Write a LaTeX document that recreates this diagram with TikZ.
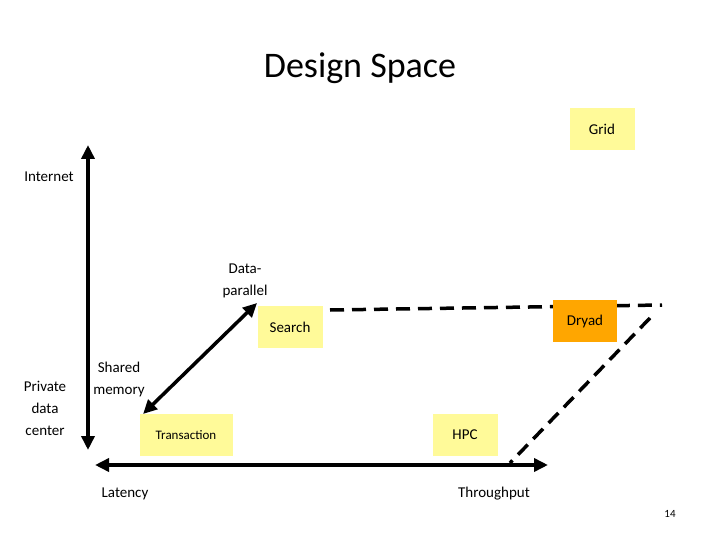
\documentclass[tikz,border=0pt]{standalone}
\usepackage{fontspec}
\setmainfont{Carlito}
\usetikzlibrary{arrows.meta}
\begin{document}
\begin{tikzpicture}[x=1pt,y=-1pt,
  lbl/.style={font=\fontsize{15}{22}\selectfont,align=center,inner sep=0},
  ybox/.style={fill=yellow!40,minimum width=65pt,minimum height=42pt,inner sep=0,font=\fontsize{15}{18}\selectfont},
  dashline/.style={line width=3.5pt,dash pattern=on 14pt off 8pt},
  dbl/.style={line width=3.5pt,{Triangle[length=14pt,width=13pt]}-{Triangle[length=14pt,width=13pt]}}]
\useasboundingbox (0,0) rectangle (720,540);
\node[font=\fontsize{36}{40}\selectfont] (title) at (360,68) {Design Space};
\node[ybox] (grid) at (602,129) {Grid};
\node[lbl] (inet) at (49,177) {Internet};
\node[lbl] (dp) at (245,281) {Data-\\parallel};
\node[lbl] (sm) at (119,379) {Shared\\memory};
\node[lbl] (pdc) at (45,408) {Private\\data\\center};
\node[lbl] (lat) at (125,494) {Latency};
\node[lbl] (thr) at (494,494) {Throughput};
\node[font=\fontsize{11}{13}\selectfont] (pg) at (670,514) {14};
\coordinate (vt) at (88,145); \coordinate (vb) at (88,450);
\coordinate (hl) at (95,465); \coordinate (hr) at (548,465);
\coordinate (dl) at (143,414); \coordinate (du) at (257,303);
\coordinate (d1) at (330,310); \coordinate (d2) at (662,305);
\coordinate (d3) at (650,318); \coordinate (d4) at (510,463);
\draw[dashline] (d1) -- (d2);
\draw[dashline] (d3) -- (d4);
\node[ybox] (search) at (290,327) {Search};
\node[ybox,fill=orange!70!yellow,minimum width=64pt] (dryad) at (585,321) {Dryad};
\node[ybox,minimum width=93pt,font=\fontsize{13}{15}\selectfont] (tr) at (186,435) {Transaction};
\node[ybox] (hpc) at (465,435) {HPC};
\draw[dbl] (vb) -- (vt);
\draw[dbl] (hl) -- (hr);
\draw[dbl] (dl) -- (du);
\end{tikzpicture}
\end{document}
